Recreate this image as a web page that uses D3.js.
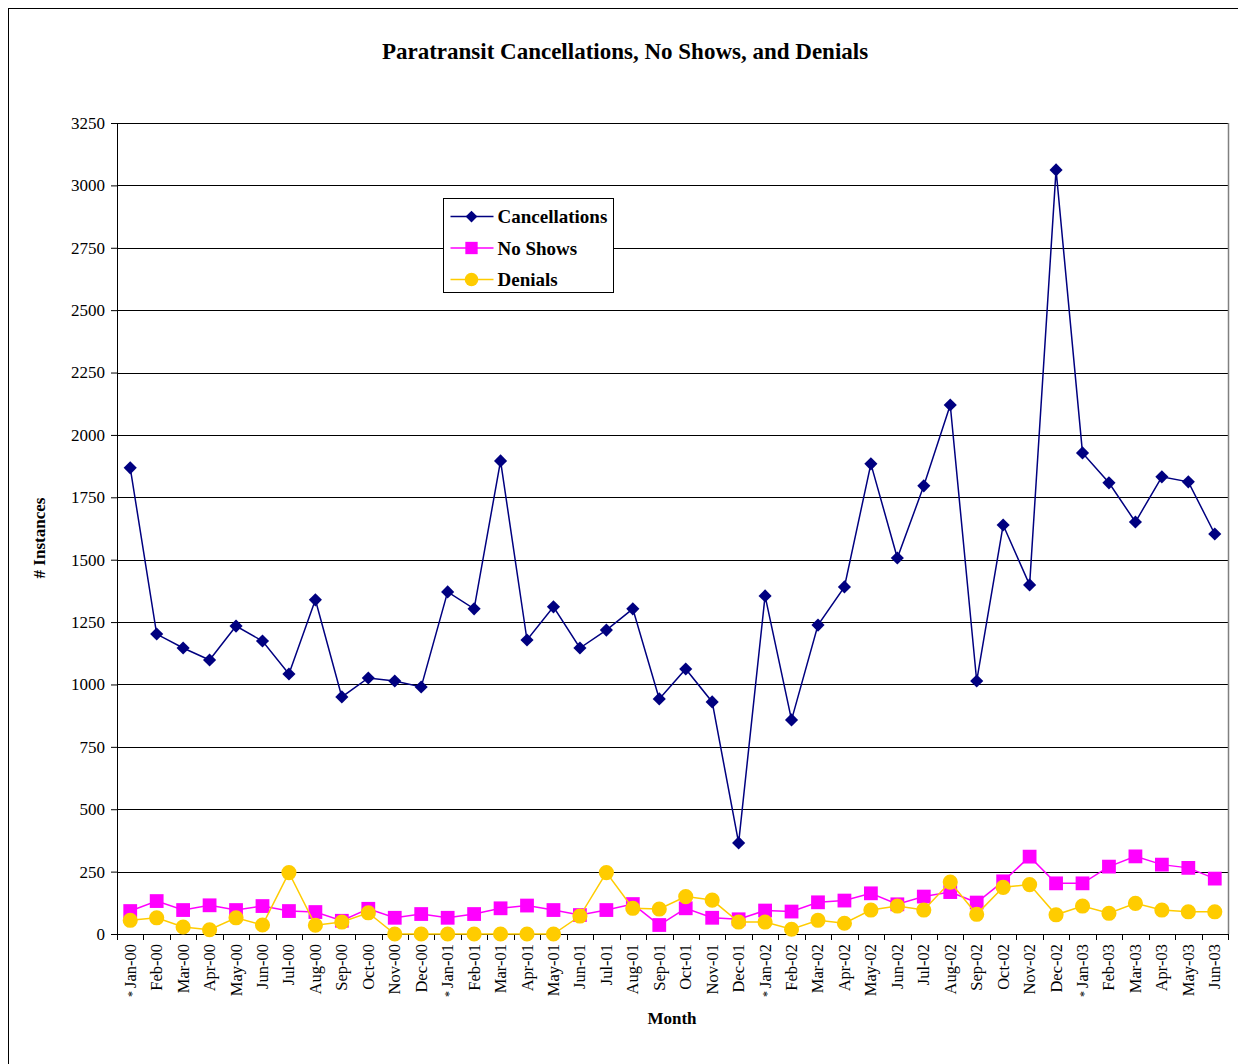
<!DOCTYPE html>
<html>
<head>
<meta charset="utf-8">
<script src="https://cdn.jsdelivr.net/npm/d3@7"></script>
<style>
  body { margin: 0; background: #fff; }
  text { font-family: "Liberation Serif", "Times New Roman", serif; }
</style>
</head>
<body>
<div id="chart"></div>
<script>
const months = ['Jan-00','Feb-00','Mar-00','Apr-00','May-00','Jun-00','Jul-00','Aug-00','Sep-00','Oct-00','Nov-00','Dec-00',
                'Jan-01','Feb-01','Mar-01','Apr-01','May-01','Jun-01','Jul-01','Aug-01','Sep-01','Oct-01','Nov-01','Dec-01',
                'Jan-02','Feb-02','Mar-02','Apr-02','May-02','Jun-02','Jul-02','Aug-02','Sep-02','Oct-02','Nov-02','Dec-02',
                'Jan-03','Feb-03','Mar-03','Apr-03','May-03','Jun-03'];
const starred = ['Jan-00', 'Jan-01', 'Jan-02', 'Jan-03'];

const cancellations = [1868,1202,1146,1098,1234,1174,1042,1339,950,1026,1014,990,
                       1371,1303,1896,1178,1311,1146,1218,1303,942,1062,930,365,
                       1355,858,1238,1391,1884,1507,1796,2120,1014,1639,1399,3062,
                       1928,1808,1651,1832,1812,1603];
const noShows = [92,132,96,115,96,112,92,88,53,101,65,80,
                 65,80,103,114,96,76,96,120,36,103,65,59,
                 94,90,127,134,163,119,150,168,126,211,310,203,
                 203,270,311,278,265,222];
const denials = [55,65,28,17,65,36,246,35,48,85,0,0,
                 0,0,0,0,0,72,246,103,100,150,136,48,
                 48,19,55,43,96,112,96,208,79,187,198,77,
                 112,83,123,96,89,89];
const yTicks = [0,250,500,750,1000,1250,1500,1750,2000,2250,2500,2750,3000,3250];

const series = [
  { name: 'Cancellations', values: cancellations, color: '#000080', shape: d3.symbolDiamond2, size: 110 },
  { name: 'No Shows', values: noShows, color: '#FF00FF', shape: d3.symbolSquare, size: 190 },
  { name: 'Denials', values: denials, color: '#FFCC00', shape: d3.symbolCircle, size: 180 }
];

const W = 1238, H = 1064;
const margin = { left: 117, right: 10, top: 123, bottom: 130 };
const plotW = 1228 - margin.left;
const plotH = 934 - margin.top;

const svg = d3.select('#chart').append('svg')
  .attr('width', W).attr('height', H);

// outer frame
svg.append('rect')
  .attr('x', 8.5).attr('y', 8.5)
  .attr('width', W + 10).attr('height', H + 10)
  .attr('fill', 'none').attr('stroke', '#000').attr('stroke-width', 1);

svg.append('text')
  .attr('x', 625).attr('y', 59)
  .attr('text-anchor', 'middle')
  .style('font-size', '23px').style('font-weight', 'bold')
  .text('Paratransit Cancellations, No Shows, and Denials');

const g = svg.append('g').attr('transform', 'translate(' + margin.left + ',' + margin.top + ')');

const x = d3.scaleBand().domain(months).range([0, plotW]);
const y = d3.scaleLinear().domain([0, 3250]).range([plotH, 0]);

// gridlines
g.selectAll('.grid')
  .data(yTicks)
  .enter().append('line')
  .attr('x1', 0).attr('x2', plotW)
  .attr('y1', d => Math.round(y(d)) + 0.5).attr('y2', d => Math.round(y(d)) + 0.5)
  .attr('stroke', '#000').attr('stroke-width', 1);

// right plot border
g.append('line')
  .attr('x1', plotW + 0.5).attr('x2', plotW + 0.5)
  .attr('y1', 0).attr('y2', plotH)
  .attr('stroke', '#808080').attr('stroke-width', 1.5);

// y axis
const yAxis = d3.axisLeft(y).tickValues(yTicks).tickFormat(d3.format('d')).tickSize(6).tickPadding(6);
const yg = g.append('g').call(yAxis);
yg.select('.domain').attr('stroke', '#000');
yg.selectAll('text').style('font-size', '17px').style('font-family', '"Liberation Serif", serif').attr('fill', '#000');

// x axis ticks at band edges
const xg = g.append('g').attr('transform', 'translate(0,' + plotH + ')');
xg.append('line').attr('x1', 0).attr('x2', plotW).attr('y1', 0.5).attr('y2', 0.5).attr('stroke', '#000');
xg.selectAll('.xtick')
  .data(months.concat(['end']))
  .enter().append('line')
  .attr('x1', (d, i) => Math.round(i * x.bandwidth()) + 0.5)
  .attr('x2', (d, i) => Math.round(i * x.bandwidth()) + 0.5)
  .attr('y1', 0).attr('y2', 6)
  .attr('stroke', '#000');

const labels = xg.selectAll('.xlabel')
  .data(months)
  .enter().append('text')
  .attr('transform', d => 'translate(' + (x(d) + x.bandwidth() / 2 + 5.5) + ',10) rotate(-90)')
  .attr('text-anchor', 'end')
  .style('font-size', '16.5px');
labels.filter(d => starred.includes(d)).append('tspan')
  .style('font-size', '12px').text('* ');
labels.append('tspan')
  .text(d => d);

// axis titles
svg.append('text')
  .attr('x', 672).attr('y', 1024)
  .attr('text-anchor', 'middle')
  .style('font-size', '17px').style('font-weight', 'bold')
  .text('Month');
svg.append('text')
  .attr('transform', 'translate(45,538) rotate(-90)')
  .attr('text-anchor', 'middle')
  .style('font-size', '17px').style('font-weight', 'bold')
  .text('# Instances');

// series
const line = d3.line()
  .x((d, i) => x(months[i]) + x.bandwidth() / 2)
  .y(d => y(d));

series.forEach(s => {
  g.append('path')
    .datum(s.values)
    .attr('d', line)
    .attr('fill', 'none')
    .attr('stroke', s.color)
    .attr('stroke-width', 1.5);

  g.selectAll(null)
    .data(s.values)
    .enter().append('path')
    .attr('d', d3.symbol().type(s.shape).size(s.size))
    .attr('transform', (d, i) => 'translate(' + (x(months[i]) + x.bandwidth() / 2) + ',' + y(d) + ')')
    .attr('fill', s.color);
});

// legend
const legend = svg.append('g').attr('transform', 'translate(443.5,198.5)');
legend.append('rect')
  .attr('width', 170).attr('height', 94)
  .attr('fill', '#fff').attr('stroke', '#000').attr('stroke-width', 1);

const items = legend.selectAll('.item')
  .data(series)
  .enter().append('g')
  .attr('transform', (d, i) => 'translate(0,' + (18 + i * 31.5) + ')');
items.append('line')
  .attr('x1', 7).attr('x2', 50)
  .attr('stroke', d => d.color).attr('stroke-width', 1.5);
items.append('path')
  .attr('d', d => d3.symbol().type(d.shape).size(d.size * 0.8)())
  .attr('transform', 'translate(28,0)')
  .attr('fill', d => d.color);
items.append('text')
  .attr('x', 54).attr('dy', '0.35em')
  .style('font-size', '19px').style('font-weight', 'bold')
  .text(d => d.name);
</script>
</body>
</html>
